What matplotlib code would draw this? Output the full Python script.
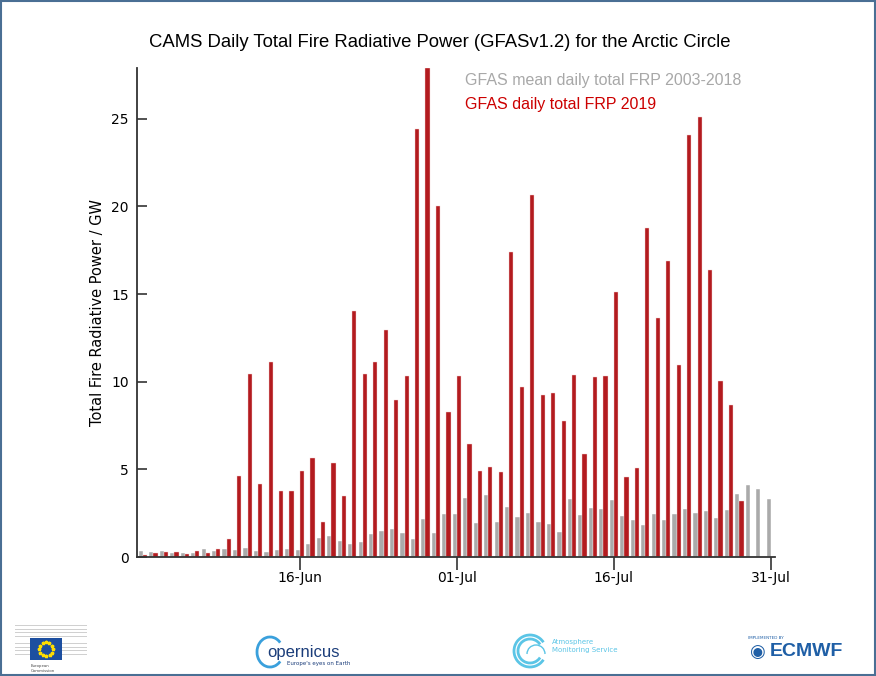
import numpy as np
import pandas as pd
import matplotlib
matplotlib.use('Agg')
import matplotlib.pyplot as plt
import matplotlib.dates as mdates
from matplotlib.patches import Rectangle, Arc

# daily values, 1 Jun - 31 Jul 2019
days = pd.date_range('2019-06-01', '2019-07-31', freq='D')

mean_frp = [0.32, 0.27, 0.32, 0.21, 0.21, 0.23, 0.44, 0.34, 0.48, 0.40,
            0.49, 0.32, 0.29, 0.38, 0.44, 0.40, 0.72, 1.06, 1.18, 0.91,
            0.74, 0.86, 1.33, 1.50, 1.58, 1.37, 1.01, 2.15, 1.37, 2.47,
            2.47, 3.35, 1.92, 3.56, 2.00, 2.83, 2.30, 2.49, 1.98, 1.88,
            1.44, 3.29, 2.40, 2.79, 2.74, 3.25, 2.36, 2.13, 1.83, 2.43,
            2.09, 2.47, 2.76, 2.49, 2.62, 2.21, 2.66, 3.57, 4.11, 3.90,
            3.31]

frp_2019 = [0.13, 0.25, 0.30, 0.30, 0.17, 0.36, 0.23, 0.48, 1.00, 4.60,
            10.42, 4.14, 11.10, 3.78, 3.76, 4.89, 5.67, 2.00, 5.34, 3.48,
            14.05, 10.46, 11.14, 12.95, 8.94, 10.34, 24.40, 27.90, 20.02, 8.25,
            10.32, 6.43, 4.90, 5.11, 4.83, 17.38, 9.71, 20.63, 9.24, 9.37,
            7.74, 10.36, 5.89, 10.25, 10.30, 15.10, 4.58, 5.10, 18.80, 13.65,
            16.88, 10.97, 24.10, 25.10, 16.37, 10.06, 8.69, 3.17]

tick_days = ['2019-06-16', '2019-07-01', '2019-07-16', '2019-07-31']
tick_labels = ['16-Jun', '01-Jul', '16-Jul', '31-Jul']

GREY = '#aaaaaa'
RED = '#b31b1f'

fig = plt.figure(figsize=(8.76, 6.76), dpi=100)
ax = fig.add_axes([0.1564, 0.176, 0.7283, 0.7234])

x = mdates.date2num(days)
ax.bar(x - 0.2, mean_frp, width=0.4, color=GREY, edgecolor='white', linewidth=0.3)
ax.bar(x[:len(frp_2019)] + 0.2, frp_2019, width=0.4, color=RED, edgecolor='#f4d0d0', linewidth=0.3)

ax.set_xlim(x[0] - 0.57, x[-1] + 0.4)
ax.set_ylim(0, max(frp_2019))
ax.set_xticks(mdates.date2num(pd.to_datetime(tick_days)))
ax.set_xticklabels(tick_labels)
ax.set_yticks([0, 5, 10, 15, 20, 25])

for s in ['top', 'right']:
    ax.spines[s].set_visible(False)
for s in ['left', 'bottom']:
    ax.spines[s].set_color('#333333')
    ax.spines[s].set_linewidth(1.3)
ax.tick_params(axis='y', direction='in', length=7, width=1.2, color='#333333', labelsize=10, pad=6)
ax.tick_params(axis='x', direction='out', length=9, width=1.2, color='#333333', labelsize=10, pad=1)
ax.set_ylabel('Total Fire Radiative Power / GW', fontsize=10.5, labelpad=4)

fig.text(0.502, 0.937, 'CAMS Daily Total Fire Radiative Power (GFASv1.2) for the Arctic Circle',
         ha='center', va='center', fontsize=13.3, family='Liberation Sans')
fig.text(465 / 876, 1 - 80 / 676, 'GFAS mean daily total FRP 2003-2018', color='#a8a8a8',
         ha='left', va='center', fontsize=11.5, family='Liberation Sans')
fig.text(465 / 876, 1 - 104 / 676, 'GFAS daily total FRP 2019', color='#cc0000',
         ha='left', va='center', fontsize=11.5, family='Liberation Sans')

# figure border
fig.patches.append(Rectangle((0.001, 0.001), 0.998, 0.998, transform=fig.transFigure,
                             fill=False, edgecolor='#4a6f94', linewidth=1.5))

# simple logo stand-ins along the bottom
W, H = 876.0, 676.0
def px(xp, yp):
    return xp / W, 1 - yp / H

# European Commission
for i in range(10):
    fig.patches.append(Rectangle(px(15, 626 + i * 3.6), 72 / W, 0.8 / H, transform=fig.transFigure,
                                 color='#d0d0d0', linewidth=0))
fig.patches.append(Rectangle(px(30, 660), 32 / W, 22 / H, transform=fig.transFigure,
                             color='#1d4fa0', linewidth=0))
ang = np.linspace(0, 2 * np.pi, 13)[:-1]
fig.add_artist(plt.Line2D((46 + 7 * np.cos(ang)) / W, 1 - (649 + 7 * np.sin(ang)) / H,
                          transform=fig.transFigure, ls='none', marker='*', ms=2.5,
                          color='#ffdd00'))
fig.text(*px(31, 664), 'European\nCommission', fontsize=2.8, va='top', ha='left', color='#444444')

# Copernicus
fig.add_artist(Arc(px(270, 652), 26 / W, 30 / H, theta1=50, theta2=310,
                   transform=fig.transFigure, color='#3aa0dc', lw=2))
fig.text(*px(267, 652), 'opernicus', fontsize=12, va='center', ha='left', color='#1b3d7a',
         family='Liberation Sans')
fig.text(*px(287, 664), "Europe's eyes on Earth", fontsize=4, va='center', ha='left',
         color='#1b3d7a')

# Atmosphere Monitoring Service
for r in [16, 12]:
    fig.add_artist(Arc(px(530, 651), 2 * r / W, 2 * r / H, theta1=40, theta2=320,
                       transform=fig.transFigure, color='#5bc5e6', lw=2))
fig.add_artist(Arc(px(536, 654), 18 / W, 18 / H, theta1=0, theta2=180,
                   transform=fig.transFigure, color='#5bc5e6', lw=1))
fig.text(*px(552, 646), 'Atmosphere\nMonitoring Service', fontsize=5, va='center', ha='left',
         color='#5bc5e6', linespacing=1.3)

# ECMWF
fig.text(*px(748, 638), 'IMPLEMENTED BY', fontsize=3, va='center', ha='left', color='#1f5fa6')
fig.text(*px(749, 652), '\u25c9', fontsize=13, va='center', ha='left', color='#1f5fa6')
fig.text(*px(770, 652), 'ECMWF', fontsize=14, fontweight='bold', va='center', ha='left',
         color='#1f5fa6', family='Liberation Sans')

fig.savefig('out.png', dpi=100)
